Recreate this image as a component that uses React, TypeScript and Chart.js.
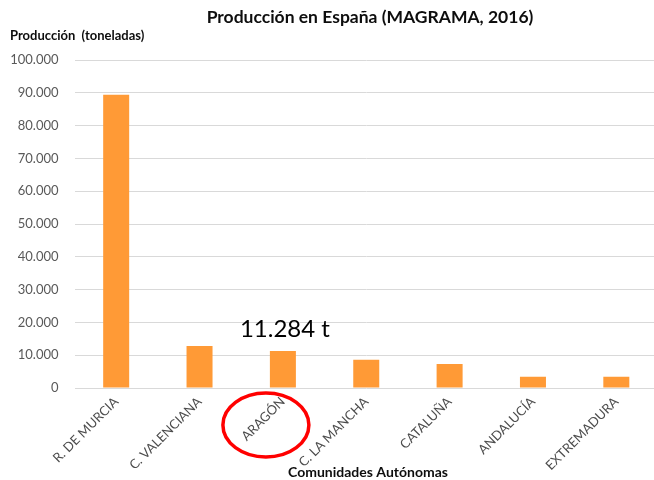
import React, { useEffect, useRef } from "react";
import { Chart, registerables } from "chart.js";

Chart.register(...registerables);

const categories = [
  "R. DE MURCIA",
  "C. VALENCIANA",
  "ARAGÓN",
  "C. LA MANCHA",
  "CATALUÑA",
  "ANDALUCÍA",
  "EXTREMADURA",
];
const production = [89400, 12800, 11284, 8600, 7300, 3400, 3400];
const yMin = 0;
const yMax = 100000;
const yStep = 10000;
const chartTitle = "Producción en España (MAGRAMA, 2016)";
const yTitle = "Producción  (toneladas)";
const xTitle = "Comunidades Autónomas";
const highlightIndex = 2;
const highlightLabel = "11.284 t";

const FONT = "Lato, 'Open Sans', sans-serif";

const fmt = (v: number) => String(v).replace(/\B(?=(\d{3})+(?!\d))/g, ".");

const decorPlugin = {
  id: "decor",
  afterDraw(chart: any) {
    const { ctx, scales } = chart;
    const xs = scales.x;
    const ys = scales.y;
    ctx.save();
    // Title
    ctx.fillStyle = "#0d0d0d";
    ctx.font = `bold 17.5px ${FONT}`;
    ctx.textAlign = "center";
    ctx.textBaseline = "alphabetic";
    ctx.fillText(chartTitle, 370, 23);
    // Y title
    ctx.font = `bold 13px ${FONT}`;
    ctx.textAlign = "left";
    ctx.fillStyle = "#0d0d0d";
    ctx.fillText(yTitle, 10, 40);
    // X title
    ctx.font = `bold 14px ${FONT}`;
    ctx.textAlign = "center";
    ctx.fillText(xTitle, 368, 477);
    // Annotation
    const cx = xs.getPixelForValue(highlightIndex);
    const topY = ys.getPixelForValue(production[highlightIndex]);
    ctx.font = `24px ${FONT}`;
    ctx.fillStyle = "#000";
    ctx.textAlign = "center";
    ctx.fillText(highlightLabel, cx + 2, topY - 14);
    // Circle around category label
    const base = ys.getPixelForValue(0);
    ctx.beginPath();
    ctx.ellipse(cx - 17, base + 37, 43, 32, 0, 0, Math.PI * 2);
    ctx.strokeStyle = "#ff0000";
    ctx.lineWidth = 3.5;
    ctx.stroke();
    ctx.restore();
  },
};

export default function App() {
  const ref = useRef<HTMLCanvasElement | null>(null);
  useEffect(() => {
    if (!ref.current) return;
    const chart = new Chart(ref.current, {
      type: "bar",
      data: {
        labels: categories,
        datasets: [
          {
            data: production,
            backgroundColor: "#ff9a36",
            borderWidth: 0,
            barPercentage: 0.312,
            categoryPercentage: 1,
          },
        ],
      },
      options: {
        responsive: false,
        animation: false,
        layout: { padding: { top: 60, left: 0, right: 0, bottom: 0 } },
        plugins: {
          legend: { display: false },
          title: { display: false },
          tooltip: { enabled: false },
        },
        scales: {
          x: {
            grid: { display: false, drawTicks: false },
            border: { display: false },
            ticks: {
              color: "#4d4d4d",
              font: { family: FONT, size: 13 },
              maxRotation: 45,
              minRotation: 45,
              padding: 6,
              autoSkip: false,
            },
            afterFit(scale: any) {
              scale.height = 92;
            },
          },
          y: {
            min: yMin,
            max: yMax,
            grid: { color: "#d9d9d9", drawTicks: false, lineWidth: 1 },
            border: { display: false },
            ticks: {
              stepSize: yStep,
              color: "#595959",
              font: { family: FONT, size: 13 },
              padding: 16,
              callback: (v: any) => fmt(Number(v)),
            },
            afterFit(scale: any) {
              scale.width = 74.5;
            },
          },
        },
      },
      plugins: [decorPlugin],
    });
    return () => chart.destroy();
  }, []);
  return (
    <div
      style={{
        position: "fixed",
        left: 0,
        top: 0,
        width: 654,
        height: 480,
        overflow: "hidden",
        background: "#fff",
      }}
    >
      <canvas ref={ref} width={658} height={480} style={{ display: "block" }} />
    </div>
  );
}
